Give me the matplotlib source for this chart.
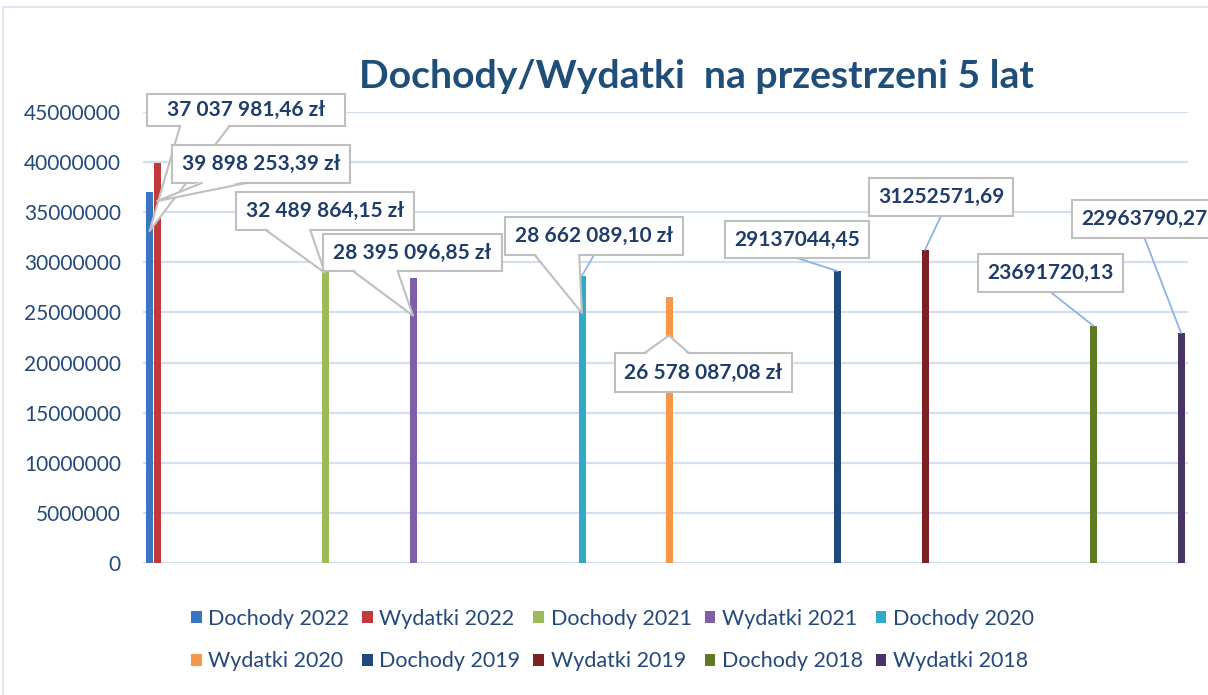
import matplotlib.pyplot as plt
from matplotlib.patches import Rectangle, Polygon
from matplotlib.lines import Line2D
from matplotlib.transforms import Affine2D

plt.rcParams['font.family'] = ['Lato', 'DejaVu Sans']

# Data
series_names = ['Dochody 2022', 'Wydatki 2022', 'Dochody 2021', 'Wydatki 2021', 'Dochody 2020',
                'Wydatki 2020', 'Dochody 2019', 'Wydatki 2019', 'Dochody 2018', 'Wydatki 2018']
values = [37037981.46, 39898253.39, 32489864.15, 28395096.85, 28662089.10,
          26578087.08, 29137044.45, 31252571.69, 23691720.13, 22963790.27]
value_labels = ['37 037 981,46 zł', '39 898 253,39 zł', '32 489 864,15 zł', '28 395 096,85 zł',
                '28 662 089,10 zł', '26 578 087,08 zł', '29137044,45', '31252571,69',
                '23691720,13', '22963790,27']
colors = ['#3a75c4', '#c0393b', '#9bbb59', '#7f5fa8', '#31a9c8',
          '#f79646', '#1f497d', '#7b2121', '#5f7a23', '#4a3466']
y_ticks = [0, 5000000, 10000000, 15000000, 20000000, 25000000, 30000000, 35000000, 40000000, 45000000]
title = 'Dochody/Wydatki  na przestrzeni 5 lat'

# Layout: bar slots in axis pixel units, label boxes (left, top, right, bottom) in figure pixels
bar_x = [6.5, 14, 182, 270, 439, 526, 694, 782, 950, 1038]
label_box = [(147, 94, 345, 126), (172, 145, 350, 183), (236, 192, 414, 230), (323, 234, 502, 271),
             (505, 217, 683, 255), (615, 353, 792, 392), (725, 221, 869, 258), (869, 178, 1013, 216),
             (978, 254, 1123, 292), (1072, 200, 1217, 238)]
# 'wedge' = Excel callout pointing into the bar, 'line' = leader line to the bar top
label_kind = ['wedge', 'wedge', 'wedge', 'wedge', 'wedge', 'wedge', 'line', 'line', 'line', 'line']
wedge_depth = [0.894, 0.905, 0.891, 0.869, 0.870, 0.854, 1, 1, 1, 1]

W, H = 1208, 695
fig = plt.figure(figsize=(W / 100, H / 100), dpi=100)
ax = fig.add_axes([143 / W, (H - 563) / H, 1045 / W, 451 / H])

# figure pixels with origin at the top left
pix = Affine2D().scale(1 / W, -1 / H).translate(0, 1) + fig.transFigure

text_col = '#1f3d6b'
grid_col = '#d3dff0'
box_col = '#bfbfbf'
lead_col = '#8db3e2'

bars = []
for i in range(len(values)):
    b = ax.bar(bar_x[i], values[i], width=7, color=colors[i], label=series_names[i], zorder=3)
    bars.append(b)

ax.set_xlim(0, 1045)
ax.set_ylim(0, 45000000)
ax.set_yticks(y_ticks)
ax.set_yticklabels([str(t) for t in y_ticks])
ax.set_xticks([])
ax.tick_params(axis='y', length=0, pad=16, labelsize=15, labelcolor='#24497a')
ax.grid(axis='y', color=grid_col, linewidth=1.6, zorder=0)
for s in ax.spines.values():
    s.set_visible(False)


def to_pix(x, y):
    dx, dy = ax.transData.transform((x, y))
    return dx * W / fig.bbox.width, H - dy * H / fig.bbox.height


# Data labels
for i in range(len(values)):
    l, t, r, b = label_box[i]
    z = 10 + 3 * i
    if label_kind[i] == 'wedge':
        ax_, ay_ = to_pix(bar_x[i], values[i] * wedge_depth[i])
        # wedge base sits on the bottom edge, or the top edge if the bar tip is above the box
        edge = b if ay_ > b else t
        inward = -2 if ay_ > b else 2
        x1 = l + (r - l) * 0.167
        x2 = l + (r - l) * 0.417
        fig.add_artist(Rectangle((l, t), r - l, b - t, transform=pix, fc='white', ec=box_col,
                                 lw=1.5, zorder=z))
        fig.add_artist(Polygon([(x1, edge + inward), (x2, edge + inward), (ax_, ay_)], closed=True,
                               transform=pix, fc='white', ec='none', zorder=z + 1))
        fig.add_artist(Line2D([x1, ax_, x2], [edge, ay_, edge], transform=pix, color=box_col,
                              lw=1.5, zorder=z + 1))
    else:
        tx, ty = to_pix(bar_x[i], values[i])
        fig.add_artist(Line2D([(l + r) / 2, tx], [b, ty], transform=pix, color=lead_col,
                              lw=1.3, zorder=z))
        fig.add_artist(Rectangle((l, t), r - l, b - t, transform=pix, fc='white', ec=box_col,
                                 lw=1.5, zorder=z + 1))
    fig.text((l + r) / 2 / W, 1 - (t + b) / 2 / H, value_labels[i], ha='center', va='center',
             fontsize=15, fontweight='bold', color=text_col, zorder=z + 2)

# extra leader for Dochody 2020
tx, ty = to_pix(bar_x[4], values[4])
l, t, r, b = label_box[4]
fig.add_artist(Line2D([(l + r) / 2, tx], [b, ty], transform=pix, color=lead_col, lw=1.2, zorder=9))

fig.text(696 / W, 1 - 77 / H, title, ha='center', va='center', fontsize=28.2,
         fontweight='bold', color='#1f4e79')

# Legend, row by row
order = [0, 5, 1, 6, 2, 7, 3, 8, 4, 9]
handles = [bars[i] for i in order]
labels = [series_names[i] for i in order]
fig.legend(handles, labels, loc='center', bbox_to_anchor=(0.507, 0.079), ncol=5, frameon=False,
           fontsize=15.5, handlelength=0.5, handleheight=0.5, handletextpad=0.3,
           columnspacing=0.6, labelspacing=1.05, labelcolor='#24497a')

# chart border
fig.add_artist(Rectangle((3 / W, -0.01), 1.1, (H - 7) / H + 0.01, transform=fig.transFigure,
                         fill=False, ec='#d9e1ee', lw=1.2))

plt.savefig('out.png', dpi=100)
plt.close()
